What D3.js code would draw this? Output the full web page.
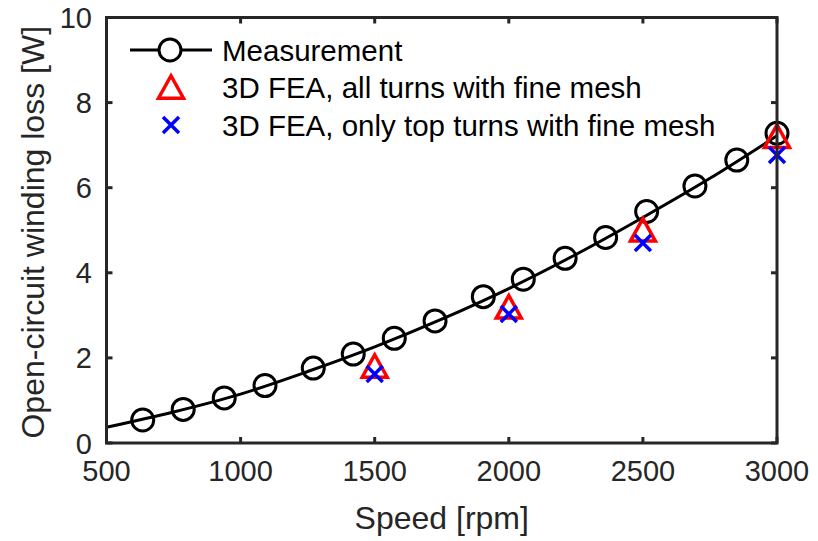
<!DOCTYPE html>
<html>
<head>
<meta charset="utf-8">
<script src="https://cdn.jsdelivr.net/npm/d3@7"></script>
<style>
  html, body { margin: 0; padding: 0; background: #fff; }
  svg { display: block; font-family: "Liberation Sans", Arial, Helvetica, sans-serif; }
</style>
</head>
<body>
<svg id="chart" width="818" height="541"></svg>
<script>
// Measured open-circuit winding loss
const measSpeed = [635, 786, 939, 1091, 1271, 1420, 1573, 1725, 1905, 2054, 2210, 2361, 2514, 2694, 2850, 3000];
const measLoss  = [0.54, 0.79, 1.06, 1.35, 1.76, 2.09, 2.46, 2.87, 3.44, 3.85, 4.34, 4.83, 5.44, 6.04, 6.65, 7.28];

// Fitted trend through the measurements
const fitSpeed = [500, 750, 1000, 1250, 1500, 1750, 2000, 2250, 2500, 2750, 3000];
const fitLoss  = [0.37, 0.73, 1.15, 1.68, 2.26, 2.91, 3.63, 4.43, 5.30, 6.22, 7.22];

// 3D FEA results
const feaSpeed    = [1500, 2000, 2500, 3000];
const feaAllFine  = [1.81, 3.20, 5.01, 7.21];
const feaTopFine  = [1.62, 3.03, 4.70, 6.77];

const xTicks = [500, 1000, 1500, 2000, 2500, 3000];
const yTicks = [0, 2, 4, 6, 8, 10];

const legendLabels = [
  "Measurement",
  "3D FEA, all turns with fine mesh",
  "3D FEA, only top turns with fine mesh"
];

const svg = d3.select("#chart");
const plotL = 106.5, plotR = 777, plotT = 17.5, plotB = 443;

const x = d3.scaleLinear().domain([500, 3000]).range([plotL, plotR]);
const y = d3.scaleLinear().domain([0, 10]).range([plotB, plotT]);

const axisColor = "#262626";
const tickFont = 29, labelFont = 32;

// Plot area clip
svg.append("defs").append("clipPath").attr("id", "plotClip")
  .append("rect").attr("x", plotL).attr("y", plotT).attr("width", plotR - plotL).attr("height", plotB - plotT);

// Fitted line
const line = d3.line().x(d => x(d[0])).y(d => y(d[1])).curve(d3.curveCatmullRom.alpha(0.5));
svg.append("path")
  .datum(fitSpeed.map((s, i) => [s, fitLoss[i]]))
  .attr("d", line)
  .attr("fill", "none")
  .attr("stroke", "#000")
  .attr("stroke-width", 3)
  .attr("clip-path", "url(#plotClip)");

// Measurement circles
svg.append("g").selectAll("circle")
  .data(measSpeed.map((s, i) => [s, measLoss[i]]))
  .join("circle")
  .attr("cx", d => x(d[0]))
  .attr("cy", d => y(d[1]))
  .attr("r", 11)
  .attr("fill", "none")
  .attr("stroke", "#000")
  .attr("stroke-width", 3);

// Triangle and cross marker paths
function triPath(cx, cy, s) {
  const h = s * 0.9;
  return `M${cx},${cy - h / 2}L${cx + s / 2},${cy + h / 2}L${cx - s / 2},${cy + h / 2}Z`;
}
function crossPath(cx, cy, s) {
  const r = s / 2;
  return `M${cx - r},${cy - r}L${cx + r},${cy + r}M${cx - r},${cy + r}L${cx + r},${cy - r}`;
}

// FEA, all turns fine mesh (red triangles)
svg.append("g").selectAll("path")
  .data(feaSpeed.map((s, i) => [s, feaAllFine[i]]))
  .join("path")
  .attr("d", d => triPath(x(d[0]), y(d[1]), 25))
  .attr("fill", "none")
  .attr("stroke", "#ff0000")
  .attr("stroke-width", 3.5)
  .attr("stroke-linejoin", "miter");

// FEA, only top turns fine mesh (blue crosses)
svg.append("g").selectAll("path")
  .data(feaSpeed.map((s, i) => [s, feaTopFine[i]]))
  .join("path")
  .attr("d", d => crossPath(x(d[0]), y(d[1]), 16))
  .attr("fill", "none")
  .attr("stroke", "#0000ff")
  .attr("stroke-width", 3.5);

// Axes box
svg.append("rect")
  .attr("x", plotL).attr("y", plotT)
  .attr("width", plotR - plotL).attr("height", plotB - plotT)
  .attr("fill", "none").attr("stroke", axisColor).attr("stroke-width", 3);

// X ticks (inward, bottom and top) and labels
const tickLen = 6;
const xt = svg.append("g");
xTicks.forEach(t => {
  xt.append("line").attr("x1", x(t)).attr("x2", x(t)).attr("y1", plotB).attr("y2", plotB - tickLen)
    .attr("stroke", axisColor).attr("stroke-width", 3);
  xt.append("line").attr("x1", x(t)).attr("x2", x(t)).attr("y1", plotT).attr("y2", plotT + tickLen)
    .attr("stroke", axisColor).attr("stroke-width", 3);
  xt.append("text").attr("x", x(t)).attr("y", 481)
    .attr("text-anchor", "middle").attr("font-size", tickFont).attr("fill", axisColor).text(t);
});

// Y ticks and labels
const yt = svg.append("g");
yTicks.forEach(t => {
  yt.append("line").attr("x1", plotL).attr("x2", plotL + tickLen).attr("y1", y(t)).attr("y2", y(t))
    .attr("stroke", axisColor).attr("stroke-width", 3);
  yt.append("line").attr("x1", plotR).attr("x2", plotR - tickLen).attr("y1", y(t)).attr("y2", y(t))
    .attr("stroke", axisColor).attr("stroke-width", 3);
  yt.append("text").attr("x", 92).attr("y", y(t) + 10.5)
    .attr("text-anchor", "end").attr("font-size", tickFont).attr("fill", axisColor).text(t);
});

// Axis titles
svg.append("text").attr("x", (plotL + plotR) / 2).attr("y", 529)
  .attr("text-anchor", "middle").attr("font-size", labelFont).attr("fill", axisColor).text("Speed [rpm]");
svg.append("text")
  .attr("transform", `translate(44,${(plotT + plotB) / 2 + 2}) rotate(-90)`)
  .attr("text-anchor", "middle").attr("font-size", labelFont).attr("fill", axisColor)
  .text("Open-circuit winding loss [W]");

// Legend
const lg = svg.append("g");
const rowY = [50, 87, 125];
lg.append("line").attr("x1", 130).attr("x2", 212).attr("y1", rowY[0]).attr("y2", rowY[0])
  .attr("stroke", "#000").attr("stroke-width", 3);
lg.append("circle").attr("cx", 170).attr("cy", rowY[0]).attr("r", 11)
  .attr("fill", "#fff").attr("stroke", "#000").attr("stroke-width", 3);
lg.append("path").attr("d", triPath(171, rowY[1], 25))
  .attr("fill", "none").attr("stroke", "#ff0000").attr("stroke-width", 3.5);
lg.append("path").attr("d", crossPath(171, rowY[2], 16))
  .attr("fill", "none").attr("stroke", "#0000ff").attr("stroke-width", 3.5);
legendLabels.forEach((s, i) => {
  lg.append("text").attr("x", 222).attr("y", rowY[i] + 10.5)
    .attr("font-size", 29.5).attr("fill", "#000").text(s);
});
</script>
</body>
</html>
